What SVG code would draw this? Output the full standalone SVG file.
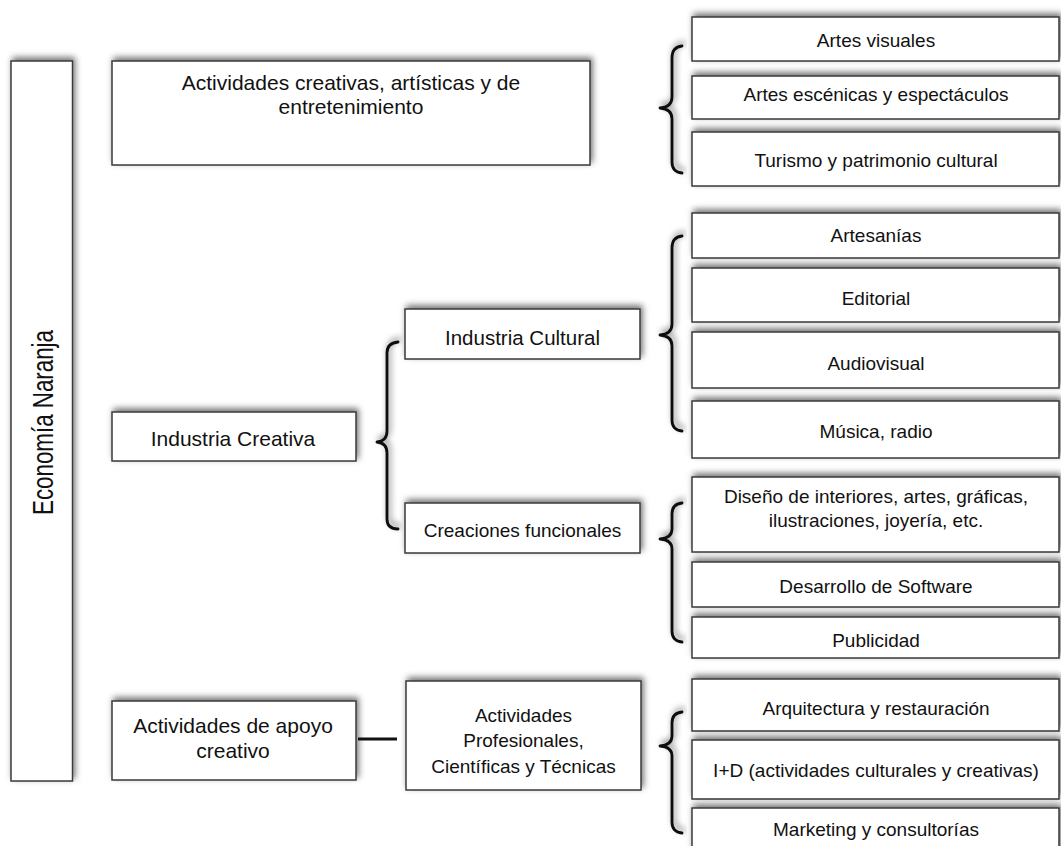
<svg xmlns="http://www.w3.org/2000/svg" width="1061" height="846" viewBox="0 0 1061 846">
<defs>
<filter id="sh" x="-20%" y="-30%" width="140%" height="160%">
<feDropShadow dx="2" dy="-3" stdDeviation="3" flood-color="#000" flood-opacity="0.55"/>
</filter>
<style>
.box{fill:#fff;stroke:#3a3a3a;stroke-width:1.5;filter:url(#sh)}
.t{font-family:"Liberation Sans",Arial,sans-serif;fill:#111;text-anchor:middle}
.s19{font-size:19px}
.s21{font-size:21px}
.br{fill:none;stroke:#111;stroke-width:2.8;stroke-linecap:round;stroke-linejoin:round;filter:url(#sh)}
</style>
</defs>
<rect width="1061" height="846" fill="#fff"/>

<g id="economia">
<rect class="box" x="11" y="61" width="61.5" height="720"/>
<text class="t" font-size="29" textLength="185" lengthAdjust="spacingAndGlyphs" transform="translate(52.5,422.5) rotate(-90)" x="0" y="0">Economía Naranja</text>
</g>

<g id="act-creativas">
<rect class="box" x="112" y="61" width="478" height="104"/>
<text class="t s21" x="351" y="90">Actividades creativas, artísticas y de</text>
<text class="t s21" x="351" y="114">entretenimiento</text>
</g>

<g id="ind-creativa">
<rect class="box" x="112" y="412" width="244" height="49"/>
<text class="t s21" x="233" y="445.5">Industria Creativa</text>
</g>

<g id="act-apoyo">
<rect class="box" x="112" y="701" width="244" height="79"/>
<text class="t s21" x="233" y="733">Actividades de apoyo</text>
<text class="t s21" x="233" y="758">creativo</text>
</g>

<g id="ind-cultural">
<rect class="box" x="405" y="309" width="235" height="50"/>
<text class="t" font-size="20.5" x="522.5" y="345">Industria Cultural</text>
</g>

<g id="creaciones">
<rect class="box" x="405" y="503" width="235" height="50"/>
<text class="t s19" x="522.5" y="536.5">Creaciones funcionales</text>
</g>

<g id="act-profesionales">
<rect class="box" x="406" y="681" width="235" height="109"/>
<text class="t s19" x="523.5" y="721.5">Actividades</text>
<text class="t s19" x="523.5" y="747">Profesionales,</text>
<text class="t s19" x="523.5" y="773">Científicas y Técnicas</text>
</g>

<g id="artes-visuales">
<rect class="box" x="692" y="17" width="367" height="44"/>
<text class="t s19" x="876" y="46.5">Artes visuales</text>
</g>
<g id="artes-escenicas">
<rect class="box" x="692" y="76" width="367" height="43"/>
<text class="t s19" x="876" y="100.5">Artes escénicas y espectáculos</text>
</g>
<g id="turismo">
<rect class="box" x="692" y="132" width="367" height="54"/>
<text class="t s19" x="876" y="166.5">Turismo y patrimonio cultural</text>
</g>

<g id="artesanias">
<rect class="box" x="692" y="213" width="367" height="45"/>
<text class="t s19" x="876" y="242">Artesanías</text>
</g>
<g id="editorial">
<rect class="box" x="692" y="268" width="367" height="54"/>
<text class="t s19" x="876" y="305">Editorial</text>
</g>
<g id="audiovisual">
<rect class="box" x="692" y="332" width="367" height="56"/>
<text class="t s19" x="876" y="370">Audiovisual</text>
</g>
<g id="musica">
<rect class="box" x="692" y="401" width="367" height="57"/>
<text class="t s19" x="876" y="438">Música, radio</text>
</g>

<g id="diseno">
<rect class="box" x="692" y="477" width="367" height="75"/>
<text class="t s19" x="876" y="503">Diseño de interiores, artes, gráficas,</text>
<text class="t s19" x="876" y="527">ilustraciones, joyería, etc.</text>
</g>
<g id="software">
<rect class="box" x="692" y="562" width="367" height="45"/>
<text class="t s19" x="876" y="592.5">Desarrollo de Software</text>
</g>
<g id="publicidad">
<rect class="box" x="692" y="617" width="367" height="41"/>
<text class="t s19" x="876" y="646.5">Publicidad</text>
</g>

<g id="arquitectura">
<rect class="box" x="692" y="679" width="367" height="52"/>
<text class="t s19" x="876" y="715">Arquitectura y restauración</text>
</g>
<g id="imasd">
<rect class="box" x="692" y="740" width="367" height="59"/>
<text class="t s19" x="876" y="776.5">I+D (actividades culturales y creativas)</text>
</g>
<g id="marketing">
<rect class="box" x="692" y="808" width="367" height="60"/>
<text class="t s19" x="876" y="836">Marketing y consultorías</text>
</g>

<g id="connectors">
<path class="br" d="M682,46 Q672,47 672,58 L672,97 Q672,107 660,108 Q672,109 672,119 L672,162 Q672,172 682,173"/>
<path class="br" d="M682,236 Q672,237 672,248 L672,324 Q672,334 660,335 Q672,336 672,346 L672,420 Q672,430 682,431"/>
<path class="br" d="M682,503 Q672,504 672,514 L672,529 Q672,538 660,539 Q672,540 672,549 L672,631 Q672,641 682,642"/>
<path class="br" d="M682,712 Q672,713 672,723 L672,736 Q672,745 660,746 Q672,747 672,756 L672,822 Q672,832 682,833"/>
<path class="br" d="M398,342 Q387,343 387,353 L387,431 Q387,441 377,442 Q387,443 387,453 L387,519 Q387,529 398,529"/>
<line x1="358" y1="739" x2="397" y2="739" stroke="#111" stroke-width="3"/>
</g>
</svg>
